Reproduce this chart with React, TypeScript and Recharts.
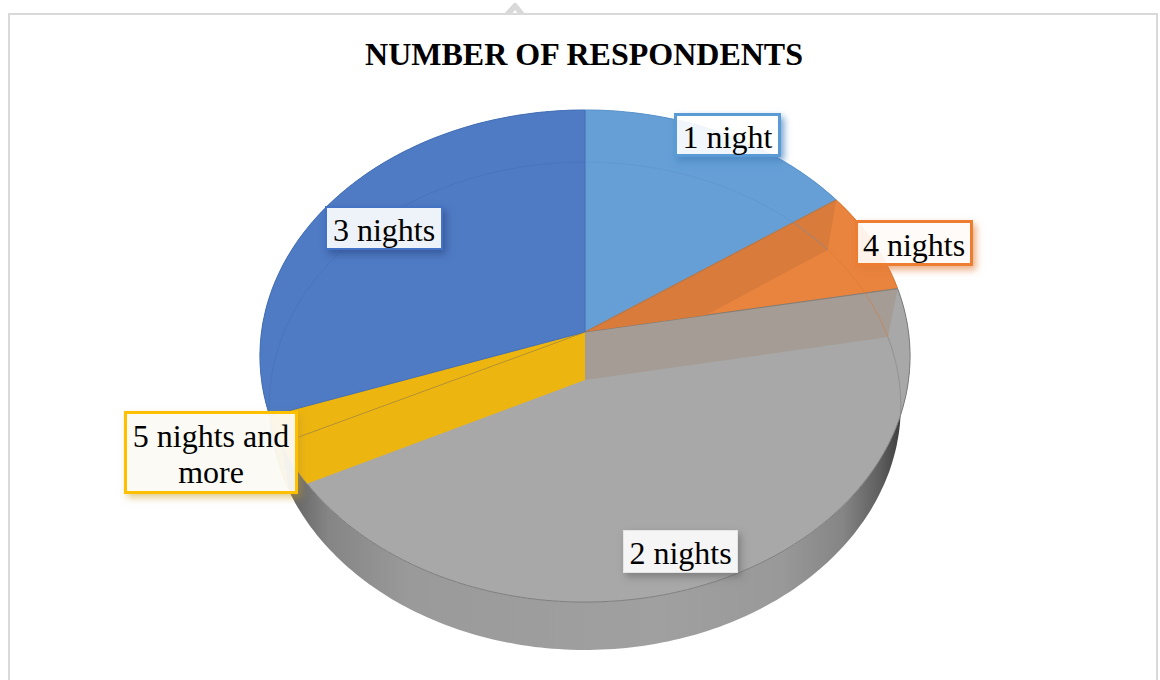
import React from "react";
import { PieChart, Pie } from "recharts";

const categories = ["1 night", "4 nights", "2 nights", "5 nights and more", "3 nights"];
const respondents = [15.3, 6.8, 45.7, 1.8, 30.4];
const faceColors = ["#659FD6", "#E9843F", "#A8A8A8", "#EDB50F", "#4F7BC4"];
const rimColors = ["#5A93CB", "#D97830", "#7E7E7E", "#D9A50C", "#4570B6"];
const sideColors = ["#4F81B5", "#B9652C", "url(#sideShade)", "#C39A14", "#3E649F"];

const pieData = categories.map((name, i) => ({ name, value: respondents[i] }));

// upper rim and lower rim of the disc, each one a circle seen in perspective
const TOP = { cx: 585, cy: 332, b: 323.5, c: 243.7, k: -0.0976 };
const BOTTOM = { cx: 585, cy: 380, b: 314, c: 241.2, k: -0.1066 };
type Disc = typeof TOP;

function project(d: Disc, deg: number) {
  const r = (deg * Math.PI) / 180;
  const u = Math.sin(r);
  const v = -Math.cos(r);
  const w = 1 + d.k * v;
  return [d.cx + (d.b * u) / w, d.cy + (d.c * v) / w];
}

function arcPoints(d: Disc, from: number, to: number) {
  const steps = Math.max(2, Math.ceil(Math.abs(to - from)));
  const pts: number[][] = [];
  for (let i = 0; i <= steps; i++) pts.push(project(d, from + ((to - from) * i) / steps));
  return pts;
}

const toPath = (pts: number[][], close = true) =>
  "M" + pts.map((p) => `${p[0].toFixed(1)},${p[1].toFixed(1)}`).join("L") + (close ? "Z" : "");

const wedge = (d: Disc, from: number, to: number) =>
  toPath([[d.cx, d.cy], ...arcPoints(d, from, to)]);

// clockwise degrees from twelve o'clock, out of the angles the Pie hands to its shape
const spanOf = (props: any) => [90 - props.startAngle, 90 - props.endAngle];

function SideShape(props: any) {
  const [a0, a1] = spanOf(props);
  const pts = [...arcPoints(TOP, a0, a1), ...arcPoints(BOTTOM, a1, a0)];
  return <path d={toPath(pts)} fill={sideColors[props.index]} />;
}

function FaceShape(props: any) {
  const [a0, a1] = spanOf(props);
  return (
    <path
      d={wedge(TOP, a0, a1)}
      fill={faceColors[props.index]}
      stroke={rimColors[props.index]}
      strokeWidth={1}
    />
  );
}

// the cut faces between slices show through the translucent top
const cutFaces: Record<string, { edge: "start" | "end"; fill: string }[]> = {
  "4 nights": [{ edge: "start", fill: "#D87B3B" }],
  "2 nights": [
    { edge: "start", fill: "#A59C95" },
    { edge: "end", fill: "#EDB50F" },
  ],
};

function CutShape(props: any) {
  const [a0, a1] = spanOf(props);
  const faces = cutFaces[props.name] ?? [];
  const clipId = `cut-clip-${props.index}`;
  return (
    <g>
      <clipPath id={clipId}>
        <path d={wedge(TOP, a0, a1)} />
      </clipPath>
      {faces.map((f) => {
        const a = f.edge === "start" ? a0 : a1;
        const t = project(TOP, a);
        const b = project(BOTTOM, a);
        return (
          <g key={f.edge} clipPath={`url(#${clipId})`}>
            <path d={toPath([[TOP.cx, TOP.cy], t, b, [BOTTOM.cx, BOTTOM.cy]])} fill={f.fill} />
            <path d={toPath([[TOP.cx, TOP.cy], t], false)} stroke="#7F7468" strokeOpacity={0.8} strokeWidth={1} fill="none" />
          </g>
        );
      })}
    </g>
  );
}

// faint rim of the lower disc, only where it lies under the top
function FloorShape(props: any) {
  const [a0, a1] = spanOf(props);
  return (
    <path
      d={toPath(arcPoints(BOTTOM, a0, a1), false)}
      fill="none"
      stroke={rimColors[props.index]}
      strokeOpacity={0.5}
      strokeWidth={1}
      clipPath="url(#topDisc)"
    />
  );
}

const labelBoxes = [
  { text: "1 night", left: 674, top: 113, width: 107, height: 44, border: "#5B9BD5", line: 3, bg: "rgba(255,255,255,.9)", shadow: "rgba(70,130,190,.75)" },
  { text: "4 nights", left: 855, top: 220, width: 118, height: 46, border: "#ED7D31", line: 3, bg: "rgba(255,251,247,.93)", shadow: "rgba(225,120,50,.6)" },
  { text: "3 nights", left: 325, top: 206, width: 118, height: 44, border: "#4472C4", line: 2, bg: "rgba(255,255,255,.9)", shadow: "rgba(40,70,130,.6)" },
  { text: "2 nights", left: 623, top: 530, width: 115, height: 43, border: "#E4E4E4", line: 1, bg: "rgba(255,255,255,.88)", shadow: "rgba(90,90,90,.5)" },
  { text: "5 nights and more", left: 124, top: 411, width: 174, height: 83, border: "#FFC000", line: 3, bg: "rgba(252,250,243,.95)", shadow: "rgba(200,160,40,.5)" },
];

const serif = '"Liberation Serif", serif';

export default function App() {
  const pieProps = {
    data: pieData,
    dataKey: "value",
    nameKey: "name",
    cx: 585,
    cy: 332,
    outerRadius: 240,
    startAngle: 90,
    endAngle: -270,
    stroke: "none",
    isAnimationActive: false,
    labelLine: false,
    rootTabIndex: -1,
  };

  return (
    <div style={{ position: "absolute", left: 0, top: 0, width: 1160, height: 680, background: "#fff", overflow: "hidden" }}>
      <svg width={30} height={16} style={{ position: "absolute", left: 500, top: 0 }}>
        <path d="M3,15 L13,4 Q15,1.5 17,4 L26,15 L19,15 L15,10 L11,15 Z" fill="#d9d9d9" />
      </svg>
      <div style={{ position: "absolute", left: 8, top: 13, width: 1150, height: 720, border: "2px solid #d9d9d9", boxSizing: "border-box" }} />
      <div style={{ position: "absolute", left: 284, width: 600, top: 36, textAlign: "center", fontFamily: serif, fontWeight: 700, fontSize: 32, lineHeight: "36px", color: "#000" }}>
        NUMBER OF RESPONDENTS
      </div>

      <div style={{ position: "absolute", left: 0, top: 0 }}>
        <PieChart width={1160} height={680} margin={{ top: 0, right: 0, bottom: 0, left: 0 }}>
          <defs>
            <linearGradient id="sideShade" gradientUnits="userSpaceOnUse" x1="285" y1="0" x2="905" y2="0">
              <stop offset="0" stopColor="#5E5E5E" />
              <stop offset="0.07" stopColor="#858585" />
              <stop offset="0.2" stopColor="#9A9A9A" />
              <stop offset="0.6" stopColor="#A0A0A0" />
              <stop offset="0.8" stopColor="#999999" />
              <stop offset="0.9" stopColor="#858585" />
              <stop offset="0.96" stopColor="#5E5E5E" />
              <stop offset="1" stopColor="#383838" />
            </linearGradient>
            <clipPath id="topDisc">
              <path d={wedge(TOP, 0, 360)} />
            </clipPath>
          </defs>
          <Pie {...pieProps} shape={SideShape} />
          <Pie {...pieProps} shape={FaceShape} />
          <Pie {...pieProps} shape={CutShape} />
          <Pie {...pieProps} shape={FloorShape} />
        </PieChart>
      </div>

      {labelBoxes.map((b) => (
        <div
          key={b.text}
          style={{
            position: "absolute",
            left: b.left,
            top: b.top,
            width: b.width,
            height: b.height,
            boxSizing: "border-box",
            border: `${b.line}px solid ${b.border}`,
            background: b.bg,
            boxShadow: `3px 4px 7px ${b.shadow}`,
            paddingTop: 3,
            display: "flex",
            alignItems: "center",
            justifyContent: "center",
            textAlign: "center",
            fontFamily: serif,
            fontSize: 32,
            lineHeight: "36px",
            color: "#000",
          }}
        >
          {b.text}
        </div>
      ))}
    </div>
  );
}
